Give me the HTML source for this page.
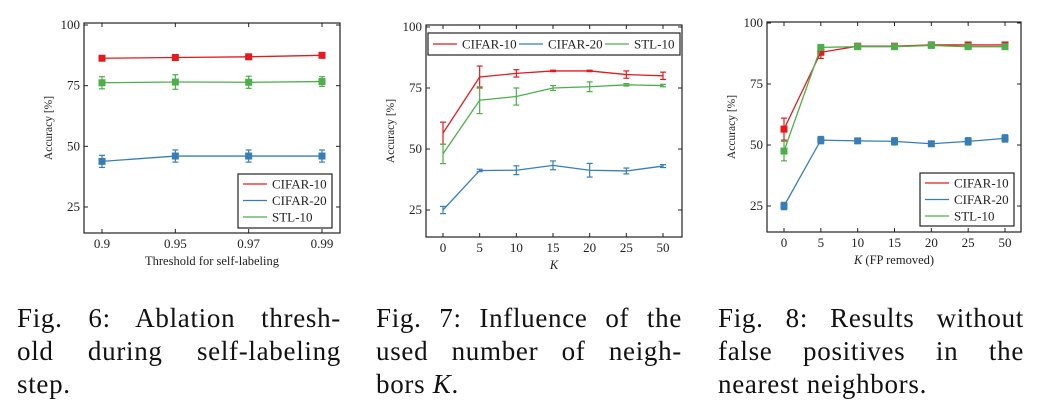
<!DOCTYPE html>
<html><head><meta charset="utf-8"><style>
body{margin:0;background:#fff;width:1046px;height:417px;overflow:hidden;position:relative;font-family:"Liberation Serif",serif;}
svg{position:absolute;left:0;top:0}
.cap{position:absolute;font-size:27px;line-height:33px;color:#111;width:324px;letter-spacing:0.7px}
.cap div{text-align:justify;text-align-last:justify;white-space:nowrap}
.cap div.last{text-align-last:left}
</style></head><body>
<svg id="svg" width="1046" height="417"></svg>
<div class="cap" style="left:17px;top:302px"><div>Fig. 6: Ablation thresh-</div><div>old during self-labeling</div><div class="last">step.</div></div>
<div class="cap" style="left:376px;top:302px;width:306px"><div>Fig. 7: Influence of the</div><div>used number of neigh-</div><div class="last">bors <i>K</i>.</div></div>
<div class="cap" style="left:718px;top:302px;width:306px"><div>Fig. 8: Results without</div><div>false positives in the</div><div class="last">nearest neighbors.</div></div>
<script>
const yTicks=[25,50,75,100];
const c1Cats=["0.9","0.95","0.97","0.99"];
const c1Cifar10=[86.3,86.6,86.9,87.5];const c1Cifar10Err=[0.5,0.5,0.5,0.5];
const c1Cifar20=[43.8,46,46,46];const c1Cifar20Err=[2.5,2.5,2.5,2.5];
const c1Stl=[76.2,76.5,76.4,76.7];const c1StlErr=[2.5,3,2.5,2];
const c2Cats=["0","5","10","15","20","25","50"];
const c2Cifar10=[56.5,79.5,81,82,82,80.5,80];const c2Cifar10Err=[4.5,4.5,1.5,0.3,0.3,1.5,1.5];
const c2Cifar20=[25,41.2,41.3,43.3,41.3,41,43];const c2Cifar20Err=[1.5,0.5,1.8,1.8,2.8,1.2,0.6];
const c2Stl=[48,70,71.5,75,75.5,76.3,76];const c2StlErr=[4,5.5,3.5,1,2,0.5,0.5];
const c3Cats=["0","5","10","15","20","25","50"];
const c3Cifar10=[56.5,88,90.5,90.5,91,91,91];const c3Cifar10Err=[4.5,2.5,0.5,0.5,0.5,0.5,0.5];
const c3Cifar20=[25,52,51.7,51.5,50.5,51.5,52.7];const c3Cifar20Err=[1.5,1.5,1,1.5,1,1.5,1.5];
const c3Stl=[47.5,90,90.3,90.3,90.8,90.3,90.3];const c3StlErr=[4,0.5,0.5,0.5,0.5,0.5,0.5];
const RED="#e41a1c",BLUE="#377eb8",GREEN="#4daf4a";
const NS="http://www.w3.org/2000/svg";const svg=document.getElementById('svg');
function mk(t,a,p){const e=document.createElementNS(NS,t);for(const k in a)e.setAttribute(k,a[k]);(p||svg).appendChild(e);return e;}
function chart(cfg){
 const g=mk('g',{});
 
 
 const y=v=>cfg.y100+(100-v)*(cfg.y25-cfg.y100)/75;
 const x=i=>cfg.x0+i*(cfg.x1-cfg.x0)/(cfg.cats.length-1);
 mk('rect',{x:cfg.L,y:cfg.T,width:cfg.R-cfg.L,height:cfg.B-cfg.T,fill:'none',stroke:'#222','stroke-width':1.2},g);
 yTicks.forEach(t=>{const yy=y(t);
  mk('line',{x1:cfg.L,x2:cfg.L+4,y1:yy,y2:yy,stroke:'#222'},g);mk('line',{x1:cfg.R-4,x2:cfg.R,y1:yy,y2:yy,stroke:'#222'},g);
  const tx=mk('text',{x:cfg.L-4,y:yy+4,'text-anchor':'end','font-size':13,fill:'#222'},g);tx.textContent=t;
  
  });
 cfg.cats.forEach((c,i)=>{const xx=x(i);
  mk('line',{x1:xx,x2:xx,y1:cfg.B,y2:cfg.B-4,stroke:'#222'},g);mk('line',{x1:xx,x2:xx,y1:cfg.T,y2:cfg.T+4,stroke:'#222'},g);
  const tx=mk('text',{x:xx,y:cfg.B+15,'text-anchor':'middle','font-size':13,fill:'#222'},g);tx.textContent=c;
  
  });
 const xl=mk('text',{x:(cfg.L+cfg.R)/2,y:cfg.B+32,'text-anchor':'middle','font-size':12.5,fill:'#222'},g);xl.innerHTML=cfg.xlabel;
 
 
 const yl=mk('text',{x:0,y:0,transform:`translate(${cfg.L-32},${(cfg.T+cfg.B)/2}) rotate(-90)`,'text-anchor':'middle','font-size':11.5,fill:'#222'},g);yl.textContent='Accuracy [%]';
 
 
 cfg.series.forEach(s=>{
  const sg=mk('g',{},g);
  
  
  mk('polyline',{points:s.v.map((v,i)=>x(i)+','+y(v)).join(' '),fill:'none',stroke:s.c,'stroke-width':1.3},sg);
  s.v.forEach((v,i)=>{const xx=x(i),e=s.e[i];
   mk('line',{x1:xx,x2:xx,y1:y(v-e),y2:y(v+e),stroke:s.c,'stroke-width':1.2},sg);
   mk('line',{x1:xx-3,x2:xx+3,y1:y(v-e),y2:y(v-e),stroke:s.c,'stroke-width':1.2},sg);
   mk('line',{x1:xx-3,x2:xx+3,y1:y(v+e),y2:y(v+e),stroke:s.c,'stroke-width':1.2},sg);
   if(cfg.markers){const m=mk('rect',{x:xx-3.5,y:y(v)-3.5,width:7,height:7,fill:s.c},sg);
    
    }
  });
 });
 const lg=mk('g',{},g);
 
 
 const Lg=cfg.legend;
 mk('rect',{x:Lg.x,y:Lg.y,width:Lg.w,height:Lg.h,fill:'#fff',stroke:'#222','stroke-width':1.2},lg);
 cfg.series.forEach((s,i)=>{
  let lx,ly;
  if(Lg.horiz){lx=Lg.x+5+i*Lg.step;ly=Lg.y+Lg.h/2;}else{lx=Lg.x+5;ly=Lg.y+10+i*16.5;}
  mk('line',{x1:lx,x2:lx+24,y1:ly,y2:ly,stroke:s.c,'stroke-width':1.3},lg);
  const t=mk('text',{x:lx+29,y:ly+4.5,'font-size':13,fill:'#222'},lg);t.textContent=s.name;
  
  
 });
}
chart({name:'chart-threshold',L:84,R:340,T:23,B:233,y100:25,y25:207,x0:102,x1:322,cats:c1Cats,markers:true,xlabel:'Threshold for self-labeling',
 legend:{x:238,y:174,w:94,h:54},
 series:[{name:'CIFAR-10',c:RED,v:c1Cifar10,e:c1Cifar10Err},{name:'CIFAR-20',c:BLUE,v:c1Cifar20,e:c1Cifar20Err},{name:'STL-10',c:GREEN,v:c1Stl,e:c1StlErr}]});
chart({name:'chart-neighbors',L:426,R:682,T:25,B:237,y100:27,y25:210,x0:443,x1:663,cats:c2Cats,markers:false,xlabel:'<tspan font-style="italic">K</tspan>',
 legend:{x:428,y:33,w:252,h:22,horiz:true,step:86},
 series:[{name:'CIFAR-10',c:RED,v:c2Cifar10,e:c2Cifar10Err},{name:'CIFAR-20',c:BLUE,v:c2Cifar20,e:c2Cifar20Err},{name:'STL-10',c:GREEN,v:c2Stl,e:c2StlErr}]});
chart({name:'chart-fp-removed',L:767,R:1021,T:22,B:232,y100:23,y25:206,x0:784,x1:1005,cats:c3Cats,markers:true,xlabel:'<tspan font-style="italic">K</tspan> (FP removed)',
 legend:{x:920,y:173,w:94,h:53},
 series:[{name:'CIFAR-10',c:RED,v:c3Cifar10,e:c3Cifar10Err},{name:'CIFAR-20',c:BLUE,v:c3Cifar20,e:c3Cifar20Err},{name:'STL-10',c:GREEN,v:c3Stl,e:c3StlErr}]});
</script>
</body></html>
